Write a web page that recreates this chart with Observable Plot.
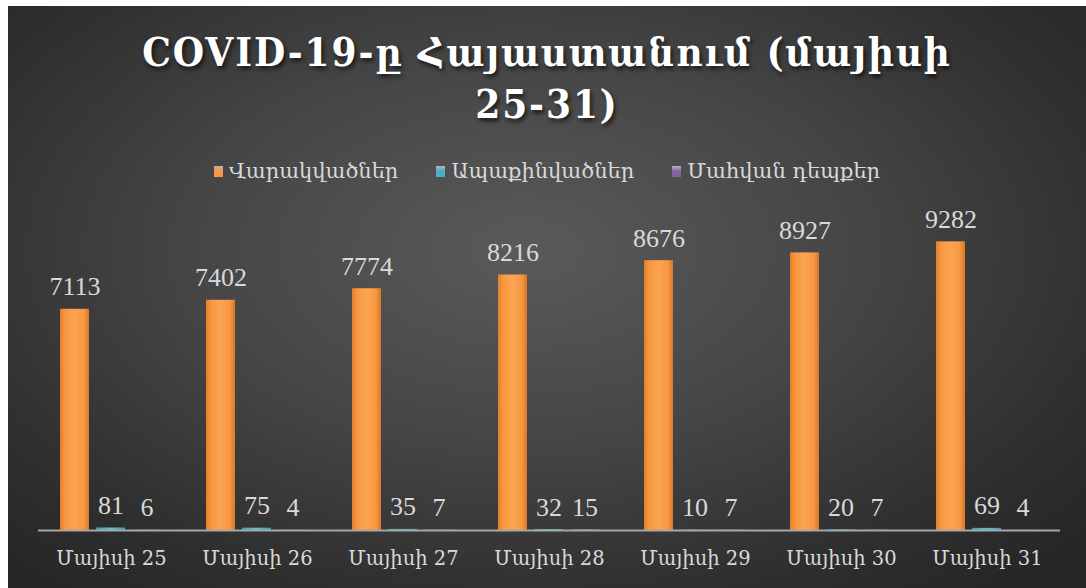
<!DOCTYPE html>
<html>
<head>
<meta charset="utf-8">
<script src="https://cdn.jsdelivr.net/npm/d3@7"></script>
<script src="https://cdn.jsdelivr.net/npm/@observablehq/plot@0.6"></script>
<style>
  html, body { margin: 0; padding: 0; background: #ffffff; }
  #frame {
    position: absolute; left: 8px; top: 6px; width: 1078px; height: 582px; overflow: hidden;
    background: radial-gradient(ellipse 70% 75% at 48% 42%, #5a5a5a 0%, #454545 45%, #2f2f2f 80%, #262626 100%);
  }
  #title {
    position: absolute; left: 0; top: 20px; width: 1078px; text-align: center;
    font-family: "DejaVu Serif Condensed", "DejaVu Serif", serif; font-weight: bold;
    font-size: 40px; line-height: 52px; letter-spacing: 1.9px; color: #ffffff;
    text-shadow: 2px 3px 4px rgba(0,0,0,0.65);
  }
  #legend {
    position: absolute; left: 0; top: 153px; width: 1078px; display: flex; justify-content: center;
    gap: 38px; font-family: "DejaVu Serif", serif; font-size: 21px; color: #d9d9d9;
  }
  #legend .item { display: flex; align-items: center; gap: 6px; }
  #legend .sw { width: 9px; height: 11px; display: inline-block; }
  #chart { position: absolute; left: 0; top: 194px; }
</style>
</head>
<body>
<div id="frame">
  <div id="title">COVID-19-ը Հայաստանում (մայիսի<br>25-31)</div>
  <div id="legend"></div>
  <div id="chart"></div>
</div>
<script>
const days = ["Մայիսի 25", "Մայիսի 26", "Մայիսի 27", "Մայիսի 28", "Մայիսի 29", "Մայիսի 30", "Մայիսի 31"];
const seriesNames = ["Վարակվածներ", "Ապաքինվածներ", "Մահվան դեպքեր"];
const infected = [7113, 7402, 7774, 8216, 8676, 8927, 9282];
const recovered = [81, 75, 35, 32, 10, 20, 69];
const deaths = [6, 4, 7, 15, 7, 7, 4];
const seriesColors = ["#f79646", "#4bacc6", "#8064a2"];
const gradients = ["url(#gOrange)", "url(#gCyan)", "url(#gPurple)"];

const values = [infected, recovered, deaths];
const data = [];
days.forEach((d, i) => {
  seriesNames.forEach((s, j) => data.push({day: d, series: s, value: values[j][i], si: j}));
});

// legend
const legend = document.getElementById("legend");
seriesNames.forEach((s, j) => {
  const it = document.createElement("div");
  it.className = "item";
  const sw = document.createElement("span");
  sw.className = "sw";
  sw.style.background = `linear-gradient(180deg, #ffffff99 0%, ${seriesColors[j]} 45%, ${seriesColors[j]} 100%)`;
  const t = document.createElement("span");
  t.textContent = s;
  it.appendChild(sw); it.appendChild(t);
  legend.appendChild(it);
});

const labelFont = `"Liberation Serif", "DejaVu Serif", serif`;
const axisFont = `"DejaVu Serif", serif`;

const chart = Plot.plot({
  width: 1078,
  height: 388,
  marginTop: 19,
  marginBottom: 58,
  marginLeft: 30,
  marginRight: 26,
  style: {background: "transparent", color: "#d9d9d9", fontFamily: labelFont},
  fx: {domain: days, paddingInner: 0, paddingOuter: 0, label: null, axis: null},
  x: {domain: seriesNames, paddingInner: 0.19, paddingOuter: 0.57, axis: null},
  y: {domain: [0, 10000], axis: null},
  marks: [
    Plot.axisFx({anchor: "bottom", tickSize: 0, tickPadding: 21, fontSize: 19.5, fill: "#d9d9d9", label: null, fontFamily: axisFont}),
    Plot.barY(data.filter(d => d.si === 0), {fx: "day", x: "series", y: "value", fill: gradients[0], style: "filter: drop-shadow(3px 2px 3px rgba(0,0,0,0.45))"}),
    Plot.barY(data.filter(d => d.si === 1), {fx: "day", x: "series", y: "value", fill: gradients[1]}),
    Plot.barY(data.filter(d => d.si === 2), {fx: "day", x: "series", y: "value", fill: gradients[2]}),
    Plot.tickY(data.filter(d => d.si === 0), {fx: "day", x: "series", y: "value", stroke: "url(#gTop)", strokeWidth: 8, dy: 4}),
    Plot.ruleY([0], {stroke: "#a6a6a6", strokeWidth: 2}),
    Plot.text(data, {fx: "day", x: "series", y: "value", text: d => String(d.value), dy: -14, lineAnchor: "bottom",
      fill: "#d9d9d9", fontSize: 26, fontFamily: labelFont})
  ]
});

const defs = `
<defs>
  <linearGradient id="gOrange" x1="0" x2="1" y1="0" y2="0">
    <stop offset="0" stop-color="#e0802c"/>
    <stop offset="0.18" stop-color="#f8983f"/>
    <stop offset="0.5" stop-color="#fba452"/>
    <stop offset="0.82" stop-color="#f8983f"/>
    <stop offset="1" stop-color="#d8782a"/>
  </linearGradient>
  <linearGradient id="gTop" x1="0" x2="1" y1="0" y2="0">
    <stop offset="0" stop-color="#f4b25a"/>
    <stop offset="0.2" stop-color="#ffd982"/>
    <stop offset="0.5" stop-color="#ffe498"/>
    <stop offset="0.8" stop-color="#ffd982"/>
    <stop offset="1" stop-color="#f0aa55"/>
  </linearGradient>
  <linearGradient id="gCyan" x1="0" x2="1" y1="0" y2="0">
    <stop offset="0" stop-color="#3f9ab3"/>
    <stop offset="0.5" stop-color="#5cc0da"/>
    <stop offset="1" stop-color="#3f9ab3"/>
  </linearGradient>
  <linearGradient id="gPurple" x1="0" x2="1" y1="0" y2="0">
    <stop offset="0" stop-color="#a08ac0"/>
    <stop offset="0.5" stop-color="#c2b0dc"/>
    <stop offset="1" stop-color="#a08ac0"/>
  </linearGradient>
</defs>`;
chart.insertAdjacentHTML("afterbegin", defs);
document.getElementById("chart").appendChild(chart);
</script>
</body>
</html>
